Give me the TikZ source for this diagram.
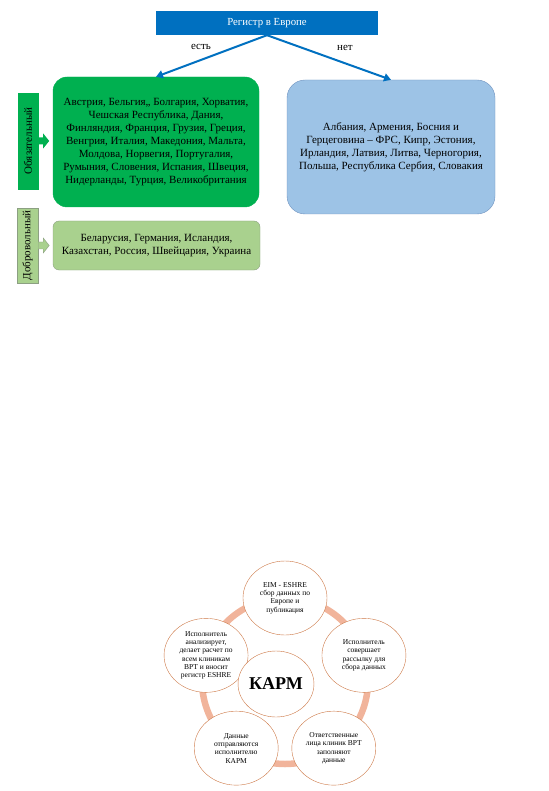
\documentclass[tikz,border=0pt]{standalone}
\usepackage{fontspec}
\setmainfont{Liberation Serif}
\usetikzlibrary{shapes.geometric,arrows.meta}
\definecolor{regblue}{RGB}{0,112,192}
\definecolor{oblgreen}{RGB}{0,176,80}
\definecolor{noblue}{RGB}{157,195,230}
\definecolor{nobluedark}{RGB}{110,145,190}
\definecolor{volgreen}{RGB}{169,209,142}
\definecolor{volgray}{RGB}{140,160,130}
\definecolor{ringc}{RGB}{241,180,155}
\definecolor{stagec}{RGB}{205,120,70}
\begin{document}
\begin{tikzpicture}[x=1pt, y=-1pt, every node/.style={font=\fontsize{11}{13}\selectfont}]
  \useasboundingbox (0,0) rectangle (548,791);
  \tikzstyle{cbox}=[draw, align=center, inner sep=0pt]
  \tikzstyle{side}=[draw, inner sep=0pt, rotate=90]
  \tikzstyle{stage}=[ellipse, draw=stagec, fill=white, minimum width=84pt, minimum height=74pt, inner sep=0pt, align=center, font=\fontsize{7.5}{8.3}\selectfont]
  % registry tree
  \node[fill=regblue, text=white, minimum width=222pt, minimum height=24pt, font=\fontsize{10.8}{12}\selectfont] (reg) at (267,23) {Регистр в Европе};
  \node[cbox, fill=oblgreen, draw=oblgreen, rounded corners=14pt, minimum width=206pt, minimum height=130pt] (obl) at (156,142) {Австрия, Бельгия,, Болгария, Хорватия,\\Чешская Республика, Дания,\\Финляндия, Франция, Грузия, Греция,\\Венгрия, Италия, Македония, Мальта,\\Молдова, Норвегия, Португалия,\\Румыния, Словения, Испания, Швеция,\\Нидерланды, Турция, Великобритания};
  \node[cbox, fill=noblue, draw=nobluedark, rounded corners=18pt, minimum width=208pt, minimum height=134pt] (no) at (391,147) {Албания, Армения, Босния и\\Герцеговина – ФРС, Кипр, Эстония,\\Ирландия, Латвия, Литва, Черногория,\\Польша, Республика Сербия, Словакия};
  \node[cbox, fill=volgreen, draw=volgray, rounded corners=6pt, minimum width=207pt, minimum height=49pt] (vol) at (156.5,245.5) {Беларусия, Германия, Исландия,\\Казахстан, Россия, Швейцария, Украина};
  \draw[-{Triangle[length=7pt,width=8pt]}, regblue, line width=2pt] (reg.south) -- (obl.north);
  \draw[-{Triangle[length=7pt,width=8pt]}, regblue, line width=2pt] (reg.south) -- (no.north);
  \node (yes) at (201,47) {есть};
  \node (nope) at (345,48) {нет};
  % side labels
  \node[side, fill=oblgreen, draw=oblgreen, minimum width=96pt, minimum height=20pt] (oblt) at (28,141) {Обязательный};
  \node[side, fill=volgreen, draw=volgray, minimum width=75pt, minimum height=21pt] (volt) at (27.5,245.5) {Добровольный};
  \fill[oblgreen] (oblt.south) ++(0,-3.5) -- ++(5,0) -- ++(0,-4) -- ++(6,7.5) -- ++(-6,7.5) -- ++(0,-4) -- ++(-5,0) -- cycle;
  \filldraw[fill=volgreen, draw=volgray] (volt.south) ++(0,-3.5) -- ++(5,0) -- ++(0,-4) -- ++(6,7.5) -- ++(-6,7.5) -- ++(0,-4) -- ++(-5,0) -- cycle;
  % KARM cycle
  \coordinate (cyc) at (285,681);
  \draw[ringc, line width=6.5pt] (cyc) circle (83pt);
  \node[stage] (eim) at ([shift={(90:83pt)}]cyc) {EIM - ESHRE\\сбор данных по\\Европе и\\публикация};
  \node[stage] (send) at ([shift={(18:83pt)}]cyc) {Исполнитель\\совершает\\рассылку для\\сбора данных};
  \node[stage] (fill) at ([shift={(-54:83pt)}]cyc) {Ответственные\\лица клиник ВРТ\\заполняют\\данные};
  \node[stage] (pass) at ([shift={(-126:83pt)}]cyc) {Данные\\отправляются\\исполнителю\\КАРМ};
  \node[stage] (calc) at ([shift={(162:83pt)}]cyc) {Исполнитель\\анализирует,\\делает расчет по\\всем клиникам\\ВРТ и вносит\\регистр ESHRE};
  \node[stage, minimum width=64pt, minimum height=66pt, font=\bfseries\fontsize{18}{22}\selectfont] (karm) at ([shift={(-9pt,-3pt)}]cyc) {КАРМ};
\end{tikzpicture}
\end{document}
